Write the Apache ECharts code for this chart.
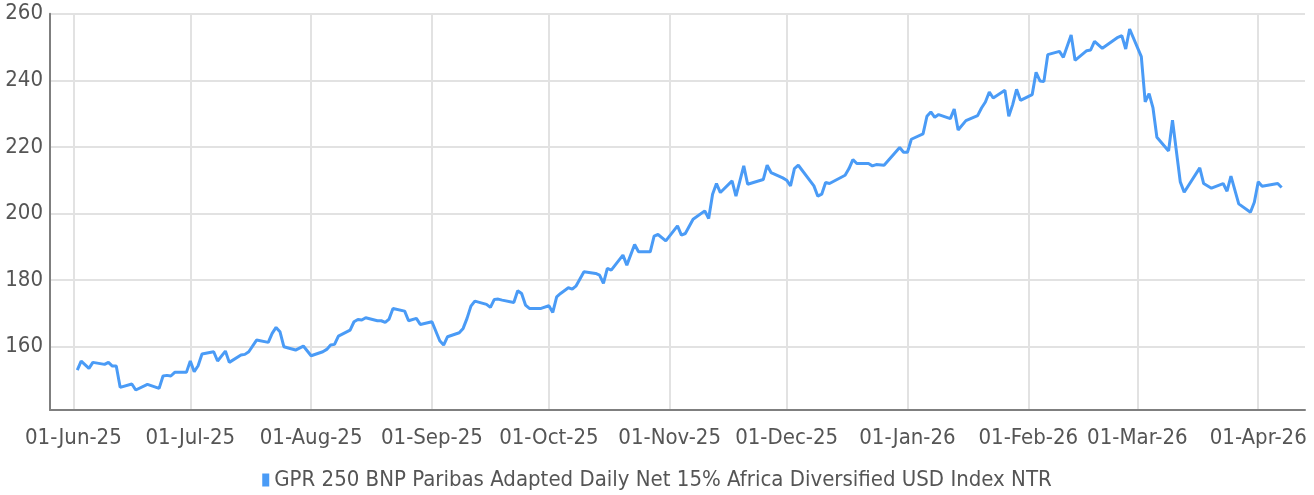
<!DOCTYPE html>
<html>
<head>
<meta charset="utf-8">
<script src="https://cdn.jsdelivr.net/npm/echarts@6/dist/echarts.min.js"></script>
<style>
html,body{margin:0;padding:0;background:#fff;}
#chart{width:1314px;height:495px;}
</style>
</head>
<body>
<div id="chart"></div>
<script>
const seriesName = 'GPR 250 BNP Paribas Adapted Daily Net 15% Africa Diversified USD Index NTR';

const dates = [
 '2025-06-02','2025-06-03','2025-06-05','2025-06-06','2025-06-09','2025-06-10','2025-06-11','2025-06-12','2025-06-13','2025-06-16',
 '2025-06-17','2025-06-20','2025-06-23','2025-06-24','2025-06-25','2025-06-26','2025-06-27','2025-06-30','2025-07-01','2025-07-02',
 '2025-07-03','2025-07-04','2025-07-07','2025-07-08','2025-07-10','2025-07-11','2025-07-14','2025-07-15','2025-07-16','2025-07-18',
 '2025-07-21','2025-07-22','2025-07-23','2025-07-24','2025-07-25','2025-07-28','2025-07-30','2025-08-01','2025-08-04','2025-08-05',
 '2025-08-06','2025-08-07','2025-08-08','2025-08-11','2025-08-12','2025-08-13','2025-08-14','2025-08-15','2025-08-18','2025-08-19',
 '2025-08-20','2025-08-21','2025-08-22','2025-08-25','2025-08-26','2025-08-28','2025-08-29','2025-09-01','2025-09-03','2025-09-04',
 '2025-09-05','2025-09-08','2025-09-09','2025-09-10','2025-09-11','2025-09-12','2025-09-15','2025-09-16','2025-09-17','2025-09-18',
 '2025-09-19','2025-09-22','2025-09-23','2025-09-24','2025-09-25','2025-09-26','2025-09-29','2025-10-01','2025-10-02','2025-10-03',
 '2025-10-04','2025-10-06','2025-10-07','2025-10-08','2025-10-10','2025-10-13','2025-10-14','2025-10-15','2025-10-16','2025-10-17',
 '2025-10-20','2025-10-21','2025-10-23','2025-10-24','2025-10-27','2025-10-28','2025-10-29','2025-10-31','2025-11-03','2025-11-04',
 '2025-11-05','2025-11-07','2025-11-10','2025-11-11','2025-11-12','2025-11-13','2025-11-14','2025-11-17','2025-11-18','2025-11-20',
 '2025-11-21','2025-11-25','2025-11-26','2025-11-27','2025-11-30','2025-12-01','2025-12-02','2025-12-03','2025-12-04','2025-12-08',
 '2025-12-09','2025-12-10','2025-12-11','2025-12-12','2025-12-16','2025-12-17','2025-12-18','2025-12-19','2025-12-22','2025-12-23',
 '2025-12-24','2025-12-26','2025-12-30','2025-12-31','2026-01-01','2026-01-02','2026-01-05','2026-01-06','2026-01-07','2026-01-08',
 '2026-01-09','2026-01-12','2026-01-13','2026-01-14','2026-01-16','2026-01-19','2026-01-20','2026-01-21','2026-01-22','2026-01-23',
 '2026-01-26','2026-01-27','2026-01-28','2026-01-29','2026-01-30','2026-02-02','2026-02-03','2026-02-04','2026-02-05','2026-02-06',
 '2026-02-09','2026-02-10','2026-02-12','2026-02-13','2026-02-16','2026-02-17','2026-02-18','2026-02-20','2026-02-24','2026-02-25',
 '2026-02-26','2026-02-27','2026-03-02','2026-03-03','2026-03-04','2026-03-05','2026-03-06','2026-03-09','2026-03-10','2026-03-12',
 '2026-03-13','2026-03-17','2026-03-18','2026-03-20','2026-03-23','2026-03-24','2026-03-25','2026-03-27','2026-03-30','2026-03-31',
 '2026-04-01','2026-04-02','2026-04-06','2026-04-07'
];

const values = [
 153.0,155.7,153.5,155.3,154.7,155.3,154.2,154.2,147.8,148.8,
 147.0,148.7,147.5,151.2,151.4,151.2,152.3,152.3,155.7,152.5,
 154.3,157.8,158.5,155.7,158.7,155.3,157.5,157.7,158.5,162.0,
 161.3,164.0,165.8,164.5,160.0,159.0,160.2,157.3,158.5,159.2,
 160.5,160.7,163.2,165.0,167.5,168.2,168.0,168.7,167.8,167.8,
 167.3,168.3,171.5,170.7,167.8,168.5,166.7,167.5,161.8,160.5,
 163.0,164.2,165.5,168.5,172.2,173.7,172.7,171.8,174.2,174.3,
 174.0,173.3,176.8,176.0,172.5,171.5,171.5,172.3,170.3,175.0,
 176.0,177.7,177.3,178.3,182.5,182.0,181.5,179.0,183.5,183.0,
 187.5,184.5,190.7,188.5,188.5,193.2,193.7,191.8,196.3,193.5,
 194.0,198.3,200.8,198.5,205.8,209.0,206.3,209.8,205.2,214.3,
 208.8,210.2,214.5,212.3,210.7,210.0,208.3,213.5,214.5,208.3,
 205.2,205.8,209.3,209.0,211.5,213.5,216.2,215.0,215.0,214.3,
 214.7,214.5,219.8,218.4,218.4,222.3,223.9,229.2,230.5,228.9,
 229.7,228.5,231.4,225.1,227.9,229.4,231.7,233.5,236.5,234.7,
 237.0,229.2,232.7,237.3,234.0,235.7,242.4,239.8,239.6,247.7,
 248.7,246.9,253.6,246.0,248.9,249.1,251.7,249.6,252.9,253.4,
 249.4,255.4,247.1,233.5,236.0,231.7,222.9,218.8,228.0,209.5,
 206.4,213.7,209.0,207.6,209.0,206.7,211.2,202.9,200.4,203.4,
 209.5,208.2,209.0,207.8
];

const monthTicks = ['2025-06-01','2025-07-01','2025-08-01','2025-09-01','2025-10-01','2025-11-01',
  '2025-12-01','2026-01-01','2026-02-01','2026-03-01','2026-04-01'];
const tickLabels = ['01-Jun-25','01-Jul-25','01-Aug-25','01-Sep-25','01-Oct-25','01-Nov-25',
  '01-Dec-25','01-Jan-26','01-Feb-26','01-Mar-26','01-Apr-26'];

function ts(s){ const p = s.split('-').map(Number); return Date.UTC(p[0], p[1]-1, p[2]); }

const tickTs = monthTicks.map(ts);
const data = dates.map((d,i)=>[ts(d), values[i]]);

const FONT = "'Liberation Sans Narrow', 'DejaVu Sans Condensed', 'Roboto', sans-serif";
const LINE_COLOR = '#4A9BF6';
const chart = echarts.init(document.getElementById('chart'), null, {renderer:'canvas'});
chart.setOption({
  animation:false,
  backgroundColor:'#ffffff',
  grid:{left:50, right:9, top:13.7, bottom:85, containLabel:false},
  legend:{
    show:true, top:464, left:'center', padding:5,
    icon:'rect', itemWidth:7, itemHeight:13, itemGap:10,
    textStyle:{fontFamily:FONT, fontSize:22, color:'#555555'},
    data:[{name:seriesName, itemStyle:{color:LINE_COLOR}}]
  },
  xAxis:{
    type:'value',
    min: ts('2025-05-26'),
    max: ts('2026-04-13'),
    axisLine:{show:true, onZero:false, lineStyle:{color:'#7f7f7f', width:2}},
    axisTick:{show:false, customValues: tickTs},
    axisLabel:{
      customValues: tickTs,
      fontFamily:FONT, fontSize:22, color:'#555555', margin:17,
      formatter:(v)=>{ const i = tickTs.indexOf(v); return i>=0 ? tickLabels[i] : ''; }
    },
    splitLine:{show:true, lineStyle:{color:'#e2e2e2', width:2}}
  },
  yAxis:{
    type:'value',
    min:141, max:260, splitNumber:6,
    axisLine:{show:true, lineStyle:{color:'#7f7f7f', width:2}},
    axisTick:{show:false},
    axisLabel:{fontFamily:FONT, fontSize:22, color:'#555555', margin:7, showMinLabel:false, padding:[5,0,0,0]},
    splitLine:{show:true, lineStyle:{color:'#e2e2e2', width:2}}
  },
  series:[{
    name:seriesName, type:'line', data:data,
    showSymbol:false, symbol:'none',
    lineStyle:{color:LINE_COLOR, width:3},
    itemStyle:{color:LINE_COLOR}
  }]
});
</script>
</body>
</html>
